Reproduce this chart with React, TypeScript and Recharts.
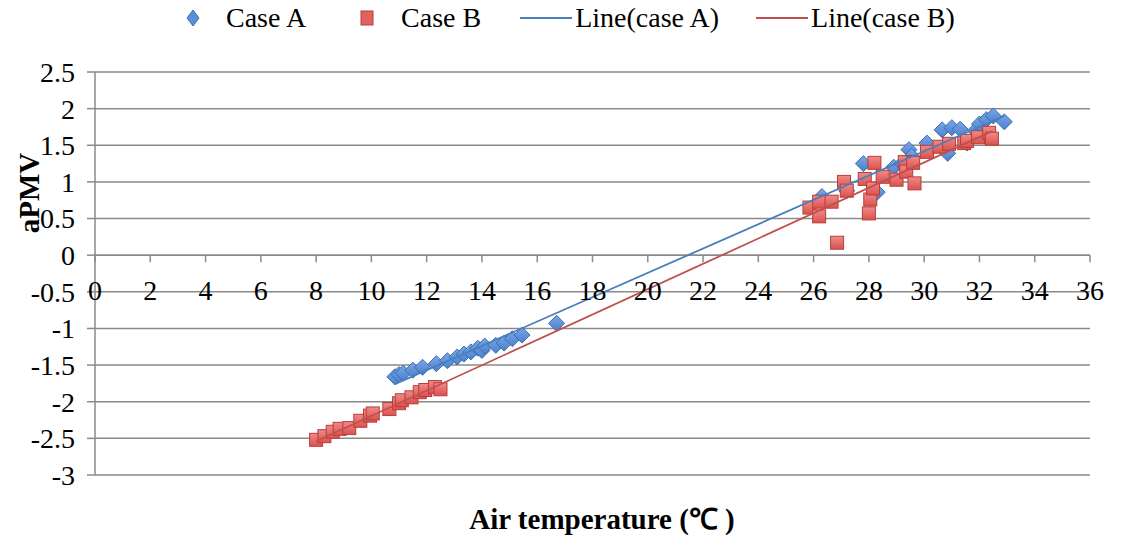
import { ScatterChart, Scatter, XAxis, YAxis, CartesianGrid, ReferenceLine, Legend } from 'recharts';

// Air temperature (°C) vs aPMV
const caseA: [number, number][] = [
  [10.85, -1.66], [11.0, -1.63], [11.15, -1.61], [11.5, -1.57], [11.85, -1.53], [12.35, -1.48],
  [12.75, -1.44], [13.1, -1.39], [13.35, -1.35], [13.6, -1.32], [13.85, -1.27], [14.0, -1.3],
  [14.1, -1.24], [14.5, -1.23], [14.8, -1.2], [15.1, -1.14], [15.45, -1.09], [16.7, -0.93],
  [26.3, 0.8], [27.2, 0.88], [27.8, 1.25], [28.3, 0.86], [28.9, 1.2], [29.2, 1.25],
  [29.45, 1.44], [29.55, 1.35], [30.1, 1.53], [30.65, 1.71], [30.85, 1.39], [31.0, 1.74],
  [31.3, 1.72], [31.55, 1.53], [31.85, 1.7], [32.0, 1.79], [32.25, 1.85], [32.5, 1.9], [32.9, 1.82],
];

const caseB: [number, number][] = [
  [8.0, -2.52], [8.3, -2.47], [8.6, -2.41], [8.85, -2.37], [9.2, -2.36], [9.6, -2.26],
  [9.95, -2.19], [10.05, -2.16], [10.65, -2.1], [11.0, -2.02], [11.1, -1.98], [11.45, -1.94],
  [11.75, -1.87], [11.95, -1.84], [12.3, -1.8], [12.5, -1.83],
  [25.85, 0.65], [26.2, 0.73], [26.2, 0.53], [26.65, 0.73], [26.85, 0.17], [27.1, 1.0],
  [27.2, 0.88], [27.85, 1.04], [28.0, 0.57], [28.05, 0.76], [28.2, 1.26], [28.15, 0.91],
  [28.5, 1.07], [29.0, 1.03], [29.3, 1.27], [29.35, 1.14], [29.6, 1.26], [29.65, 0.98],
  [30.1, 1.41], [30.55, 1.48], [30.9, 1.52], [31.45, 1.53], [31.55, 1.56], [31.95, 1.61],
  [32.35, 1.67], [32.45, 1.59],
];

// linear trend lines (end points)
const lineA: [number, number][] = [[10.85, -1.76], [32.9, 1.9]];
const lineB: [number, number][] = [[8.0, -2.54], [32.45, 1.69]];

const xTicks = [0, 2, 4, 6, 8, 10, 12, 14, 16, 18, 20, 22, 24, 26, 28, 30, 32, 34, 36];
const yTicks = [-3, -2.5, -2, -1.5, -1, -0.5, 0, 0.5, 1, 1.5, 2, 2.5];

const toPoints = (rows: [number, number][]) => rows.map(([x, y]) => ({ x, y }));

const FONT = "'Times New Roman', 'Liberation Serif', serif";
const GRID = '#8a8a8a';
const BLUE = '#4a7ebb';
const RED = '#c0504d';

const PLOT_TOP = 72;
const PLOT_BOTTOM = 475;
const Y_MIN = -3;
const Y_MAX = 2.5;
const Y_ZERO = PLOT_BOTTOM - ((0 - Y_MIN) / (Y_MAX - Y_MIN)) * (PLOT_BOTTOM - PLOT_TOP);

const Diamond = ({ cx, cy }: any) => (
  <polygon
    points={`${cx},${cy - 8} ${cx + 8},${cy} ${cx},${cy + 8} ${cx - 8},${cy}`}
    fill="url(#gradA)"
    stroke="#3d6db2"
    strokeWidth={1}
  />
);

const Square = ({ cx, cy }: any) => (
  <rect x={cx - 6.5} y={cy - 6.5} width={13} height={13} fill="url(#gradB)" stroke="#b83d3a" strokeWidth={1} />
);

const NoDot = () => <g />;

const XTick = ({ x, payload }: any) => (
  <g>
    <line x1={x} x2={x} y1={Y_ZERO} y2={Y_ZERO + 7} stroke={GRID} strokeWidth={1.5} />
    <text x={x} y={Y_ZERO + 45} textAnchor="middle" fontSize={28} fontFamily={FONT} fill="#000">
      {payload.value}
    </text>
  </g>
);

const XTitle = ({ viewBox }: any) => (
  <text x={viewBox.x + 507} y={viewBox.y + 54} textAnchor="middle" fontSize={29} fontWeight="bold" fontFamily={FONT} fill="#000">
    Air temperature (℃ )
  </text>
);

const YTitle = ({ viewBox }: any) => {
  const cx = viewBox.x + 29;
  const cy = viewBox.y + 121;
  return (
    <text
      x={cx}
      y={cy}
      transform={`rotate(-90 ${cx} ${cy})`}
      textAnchor="middle"
      dominantBaseline="central"
      fontSize={29}
      fontWeight="bold"
      fontFamily={FONT}
      fill="#000"
    >
      aPMV
    </text>
  );
};

const LegendIcon = ({ type, color }: { type: string; color: string }) => {
  if (type === 'diamond') {
    return (
      <svg width={14} height={18}>
        <polygon points="7,1 13,9 7,17 1,9" fill="#5b8fd6" stroke="#3d6db2" />
      </svg>
    );
  }
  if (type === 'square') {
    return (
      <svg width={14} height={18}>
        <rect x={1} y={2} width={12} height={14} fill="#e0625f" stroke="#b83d3a" />
      </svg>
    );
  }
  return (
    <svg width={52} height={18}>
      <line x1={0} x2={52} y1={9} y2={9} stroke={color} strokeWidth={2} />
    </svg>
  );
};

const renderLegend = ({ payload }: any) => {
  const gaps = [26, 27, 3, 3];
  const after = [54, 39, 37, 0];
  return (
    <div style={{ display: 'flex', alignItems: 'center', paddingLeft: 186, height: 36 }}>
      {(payload || []).map((entry: any, i: number) => (
        <div key={entry.value} style={{ display: 'flex', alignItems: 'center', marginRight: after[i] }}>
          <LegendIcon type={entry.type} color={entry.color} />
          <span style={{ marginLeft: gaps[i], fontFamily: FONT, fontSize: 28, color: '#000' }}>{entry.value}</span>
        </div>
      ))}
    </div>
  );
};

export default function App() {
  return (
    <div style={{ position: 'absolute', left: 0, top: 0, background: '#fff', fontFamily: FONT }}>
      <ScatterChart width={1121} height={535} margin={{ top: PLOT_TOP, right: 31, bottom: 0, left: 0 }}>
        <defs>
          <linearGradient id="gradA" x1="0" y1="0" x2="0" y2="1">
            <stop offset="0%" stopColor="#7aa7e6" />
            <stop offset="100%" stopColor="#4a80cc" />
          </linearGradient>
          <linearGradient id="gradB" x1="0" y1="0" x2="0" y2="1">
            <stop offset="0%" stopColor="#f08a88" />
            <stop offset="100%" stopColor="#d9524f" />
          </linearGradient>
        </defs>
        <CartesianGrid vertical={false} stroke={GRID} strokeWidth={1.5} />
        <XAxis
          type="number"
          dataKey="x"
          domain={[0, 36]}
          ticks={xTicks}
          interval={0}
          axisLine={false}
          tickLine={false}
          height={60}
          tick={<XTick />}
          label={XTitle}
        />
        <YAxis
          type="number"
          dataKey="y"
          domain={[Y_MIN, Y_MAX]}
          ticks={yTicks}
          interval={0}
          width={95}
          axisLine={{ stroke: GRID, strokeWidth: 1.5 }}
          tickLine={{ stroke: GRID, strokeWidth: 1.5 }}
          tickSize={8}
          tickMargin={12}
          tick={{ fill: '#000', fontSize: 28, fontFamily: FONT }}
          label={YTitle}
        />
        <ReferenceLine y={0} stroke={GRID} strokeWidth={1.5} />
        <Legend
          verticalAlign="middle"
          align="center"
          content={renderLegend}
          wrapperStyle={{ top: 0, left: 0, width: 1121 }}
        />
        <Scatter name="Case A" data={toPoints(caseA)} fill="#5b8fd6" shape={Diamond} legendType="diamond" isAnimationActive={false} />
        <Scatter name="Case B" data={toPoints(caseB)} fill="#e0625f" shape={Square} legendType="square" isAnimationActive={false} />
        <Scatter
          name="Line(case A)"
          data={toPoints(lineA)}
          fill={BLUE}
          line={{ stroke: BLUE, strokeWidth: 1.8 }}
          shape={NoDot}
          legendType="line"
          isAnimationActive={false}
        />
        <Scatter
          name="Line(case B)"
          data={toPoints(lineB)}
          fill={RED}
          line={{ stroke: RED, strokeWidth: 1.8 }}
          shape={NoDot}
          legendType="line"
          isAnimationActive={false}
        />
      </ScatterChart>
    </div>
  );
}
